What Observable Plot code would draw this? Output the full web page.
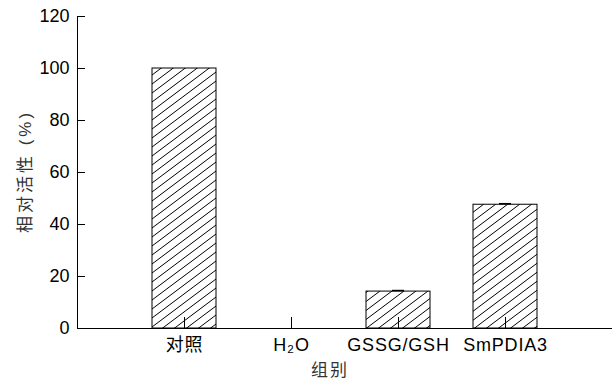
<!DOCTYPE html>
<html><head><meta charset="utf-8">
<script src="https://cdn.jsdelivr.net/npm/d3@7"></script>
<script src="https://cdn.jsdelivr.net/npm/@observablehq/plot@0.6"></script>
<style>html,body{margin:0;padding:0;background:#fff} #chart svg{display:block}</style>
</head><body><div id="chart"></div>
<script>
const categories = ["对照", "H₂O", "GSSG/GSH", "SmPDIA3"];
const values = [100, 0, 14.2, 47.6];
const errors = [0, 0, 0.4, 0.4];
const yTicks = [0, 20, 40, 60, 80, 100, 120];
const xTitle = "组别";
const yTitle = "相对活性 (%)";

const data = categories.map((c, i) => ({group: c, value: values[i], err: errors[i]}));
const errData = data.filter(d => d.err > 0);

const font = '"Liberation Sans", Arial, "Noto Sans CJK SC", sans-serif';

function defs() {
  const g = d3.create("svg:defs");
  const p = g.append("pattern").attr("id", "hatch").attr("patternUnits", "userSpaceOnUse")
    .attr("width", 12).attr("height", 9);
  p.append("rect").attr("width", 12).attr("height", 9).attr("fill", "#fff");
  p.append("path").attr("d", "M-2,1.5L2,-1.5M-2,10.5L14,-1.5M10,10.5L14,7.5")
    .attr("stroke", "#000").attr("stroke-width", 1).attr("fill", "none");
  return g.node();
}

function leftLine(index, scales, values, dims) {
  const l = d3.create("svg:line")
    .attr("x1", dims.marginLeft + 0.5).attr("x2", dims.marginLeft + 0.5)
    .attr("y1", dims.marginTop).attr("y2", dims.height - dims.marginBottom)
    .attr("stroke", "#000").attr("stroke-width", 1);
  return l.node();
}

const plot = Plot.plot({
  width: 614, height: 382,
  marginLeft: 77, marginRight: 2, marginTop: 16, marginBottom: 54,
  style: {fontFamily: font, fontSize: "18px", color: "#000", background: "#fff", overflow: "visible"},
  x: {domain: categories, paddingInner: 0.402, paddingOuter: 0.701, label: null},
  y: {domain: [0, 120], label: null},
  marks: [
    defs,
    Plot.barY(data, {x: "group", y: "value", fill: "url(#hatch)", stroke: "#000", strokeWidth: 1}),
    Plot.ruleX(errData, {x: "group", y1: "value", y2: d => d.value + d.err, stroke: "#000"}),
    Plot.tickY(errData, {x: "group", y: d => d.value + d.err, insetLeft: 26, insetRight: 26, stroke: "#000", strokeWidth: 1.5}),
    Plot.ruleY([0], {stroke: "#000"}),
    leftLine,
    Plot.axisY({ticks: yTicks, tickSize: 0, tickPadding: 8, fontSize: 18}),
    Plot.axisY({ticks: yTicks, tickSize: -8, fill: "none"}),
    Plot.axisX({tickSize: 0, tickPadding: 10, fontSize: 18}),
    Plot.axisX({tickSize: -11, fill: "none"}),
    Plot.text([yTitle], {text: d => d, frameAnchor: "left", textAnchor: "middle", lineAnchor: "middle", rotate: -90, dx: -52, dy: -1, fontSize: 17, fill: "#333"}),
    Plot.text([xTitle], {text: d => d, frameAnchor: "bottom", textAnchor: "middle", lineAnchor: "middle", dx: -15, dy: 42, fontSize: 17, fill: "#333"})
  ]
});
const spacing = new Map([[yTitle, "3px"], [xTitle, "2px"]]);
categories.forEach(c => spacing.set(c, "0.8px"));
d3.select(plot).selectAll("text").each(function () {
  const s = spacing.get(this.textContent);
  if (s) this.style.letterSpacing = s;
});
document.getElementById("chart").appendChild(plot);
</script>
</body></html>
